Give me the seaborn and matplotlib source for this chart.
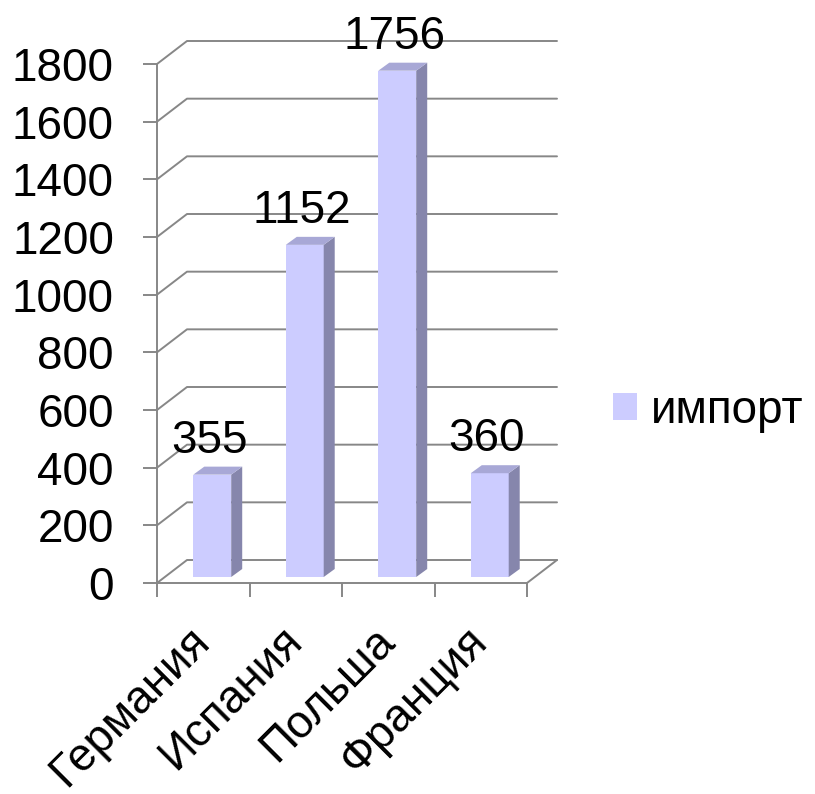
import matplotlib
matplotlib.use("Agg")
import matplotlib.pyplot as plt
import matplotlib.transforms as mtransforms
from matplotlib.patches import Polygon
from matplotlib.lines import Line2D
import numpy as np
import pandas as pd
import seaborn as sns

# данные
strany = ["Германия", "Испания", "Польша", "Франция"]
import_vals = [355, 1152, 1756, 360]
seriya = ["импорт"] * len(strany)
y_ticks = list(range(0, 2000, 200))

# цвета "3D" столбиков
front = "#CCCCFF"
side = "#8686AC"
top = "#A8A8D6"
grey = "#878787"

sns.set_style("white")
plt.rcParams['font.family'] = ['Liberation Sans', 'DejaVu Sans']
plt.rcParams['text.color'] = 'black'
plt.rcParams['xtick.labelcolor'] = 'black'
plt.rcParams['ytick.labelcolor'] = 'black'

DPI = 100
FS = 33
fig = plt.figure(figsize=(8.15, 7.94), dpi=DPI)
ax = fig.add_axes([157 / 815, 211 / 794, 370 / 815, 519 / 794])

df = pd.DataFrame({"strana": strany, "import": import_vals, "seriya": seriya})
sns.barplot(data=df, x="strana", y="import", hue="seriya", palette=[front],
            saturation=1, width=0.41, edgecolor="none", zorder=3, ax=ax)

ax.set_xlim(-0.5, 3.5)
ax.set_ylim(0, 1800)
ax.set_xlabel("")
ax.set_ylabel("")

# глубина: стенка и столбики
wall = np.array([30, 23])
shift = np.array([9, 6])
depth = np.array([11, 8])
ident = mtransforms.IdentityTransform()

# сетка на задней стенке
for t in y_ticks:
    p0 = ax.transData.transform((-0.5, t))
    p1 = p0 + wall
    p2 = ax.transData.transform((3.5, t)) + wall
    ax.add_artist(Line2D([p0[0], p1[0], p2[0]], [p0[1], p1[1], p2[1]],
                         transform=ident, color=grey, lw=1.4, zorder=1, clip_on=False))
f0 = ax.transData.transform((3.5, 0))
ax.add_artist(Line2D([f0[0], f0[0] + wall[0]], [f0[1], f0[1] + wall[1]],
                     transform=ident, color=grey, lw=1.4, zorder=1, clip_on=False))

bars = list(ax.patches)
off = mtransforms.ScaledTranslation(shift[0] / DPI, shift[1] / DPI, fig.dpi_scale_trans)
lbl_off = mtransforms.ScaledTranslation(6 / DPI, 28 / DPI, fig.dpi_scale_trans)
for p, val in zip(bars, import_vals):
    x0 = p.get_x()
    x1 = x0 + p.get_width()
    h = p.get_height()
    p.set_transform(ax.transData + off)
    p.set_clip_on(False)
    a = ax.transData.transform((x0, h)) + shift
    b = ax.transData.transform((x1, h)) + shift
    c = ax.transData.transform((x1, 0)) + shift
    ax.add_artist(Polygon([c, b, b + depth, c + depth], closed=True, transform=ident,
                          facecolor=side, edgecolor="none", zorder=3, clip_on=False))
    ax.add_artist(Polygon([a, b, b + depth, a + depth], closed=True, transform=ident,
                          facecolor=top, edgecolor="none", zorder=3, clip_on=False))
    ax.text(x0 + p.get_width() / 2, val, str(val), transform=ax.transData + lbl_off,
            ha="center", va="baseline", fontsize=FS, color="black", zorder=5)

# оси
sns.despine(ax=ax)
for s in ["left", "bottom"]:
    ax.spines[s].set_color(grey)
    ax.spines[s].set_linewidth(1.4)
    ax.spines[s].set_zorder(2)

ax.set_yticks(y_ticks)
ax.tick_params(axis="y", left=True, direction="out", length=10, width=1.4,
               color=grey, labelsize=FS, labelcolor="black", pad=21)

ax.set_xticks([-0.5, 0.5, 1.5, 2.5, 3.5], labels=[""] * 5)
ax.set_xticks([0, 1, 2, 3], labels=strany, minor=True)
ax.tick_params(axis="x", which="major", bottom=True, direction="out", length=10,
               width=1.4, color=grey)
ax.tick_params(axis="x", which="minor", bottom=True, length=0, labelsize=FS,
               labelcolor="black", pad=37)
for lab in ax.get_xticklabels(minor=True):
    lab.set_rotation(45)
    lab.set_ha("right")
    lab.set_va("center")
    lab.set_rotation_mode("anchor")

sns.move_legend(ax, "center left", bbox_to_anchor=(613 / 815, 1 - 411 / 794),
                bbox_transform=fig.transFigure, title=None, frameon=False, fontsize=FS,
                handlelength=0.53, handleheight=0.53, handletextpad=0.3,
                borderpad=0, borderaxespad=0)
for txt in ax.get_legend().get_texts():
    txt.set_color("black")

fig.savefig("out.png", dpi=DPI, facecolor="white")
